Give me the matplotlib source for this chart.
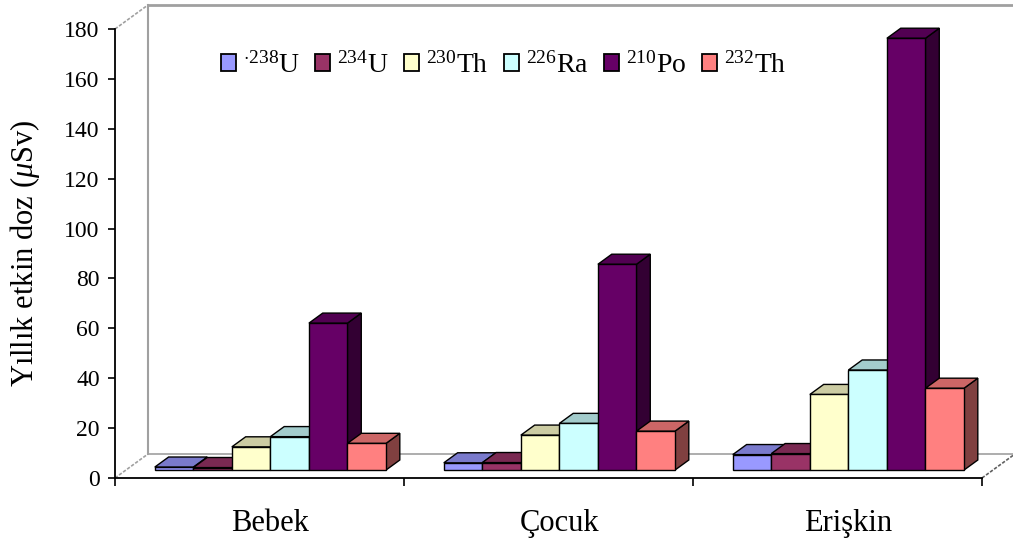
import matplotlib
matplotlib.use("Agg")
import matplotlib.pyplot as plt
from matplotlib.patches import Polygon, Patch
from matplotlib.colors import to_rgb

plt.rcParams['font.family'] = ['Liberation Serif', 'DejaVu Serif']
plt.rcParams['mathtext.fontset'] = 'custom'
plt.rcParams['mathtext.rm'] = 'Liberation Serif'
plt.rcParams['mathtext.it'] = 'Liberation Serif:italic'

# yıllık etkin doz (µSv) — yaş grubu x radyonüklid
gruplar = ['Bebek', 'Çocuk', 'Erişkin']
nuklidler = [r'$^{\cdot238}$U', r'$^{234}$U', r'$^{230}$Th', r'$^{226}$Ra', r'$^{210}$Po', r'$^{232}$Th']
u238 = [1.2, 2.9, 6.2]
u234 = [1.0, 3.0, 6.6]
th230 = [9.3, 14.0, 30.3]
ra226 = [13.4, 18.7, 40.1]
po210 = [58.9, 82.5, 173.1]
th232 = [10.7, 15.6, 32.8]
seriler = [u238, u234, th230, ra226, po210, th232]
renkler = ['#9999FF', '#993366', '#FFFFCC', '#CCFFFF', '#660066', '#FF8080']

YMAX = 180
# oblique depth of the 3-D floor, in data units
DX, DY = 0.114, 9.62
D0, D1 = 0.33, 0.75   # front / back of the columns inside the floor
GAP = 0.1
BW = (1 - 2 * GAP) / len(seriler)


def proj(x, y, d):
    return (x + d * DX, y + d * DY)


def shade(c, k):
    r, g, b = to_rgb(c)
    return (r * k, g * k, b * k)


fig = plt.figure(figsize=(10.13, 5.45), dpi=100)
ax = fig.add_axes([115 / 1013, 67 / 545, 867 / 1013, 449 / 545])
ax.set_xlim(0, len(gruplar))
ax.set_ylim(0, YMAX)

# walls and floor outline
gri = '#A0A0A0'
n = len(gruplar)
def seg(p, q, **kw):
    ax.plot([p[0], q[0]], [p[1], q[1]], clip_on=False, zorder=1, **kw)

seg(proj(0, 0, 1), proj(n + 0.2, 0, 1), color=gri, lw=1.2)
seg(proj(0, 0, 1), proj(0, YMAX, 1), color=gri, lw=1.5)
seg(proj(0, YMAX, 1), proj(n + 0.2, YMAX, 1), color=gri, lw=2)
seg(proj(0, 0, 0), proj(0, 0, 1), color=gri, lw=1.2, ls=(0, (2, 1)))
seg(proj(0, YMAX, 0), proj(0, YMAX, 1), color=gri, lw=1.2, ls=(0, (2, 1)))
seg(proj(n, 0, 0), proj(n, 0, 1), color='#606060', lw=1.2, ls=(0, (2, 1)))

# columns, drawn left to right so each front face hides the previous side face
for g in range(n):
    for i, (vals, c) in enumerate(zip(seriler, renkler)):
        x0 = g + GAP + i * BW
        x1 = x0 + BW
        h = vals[g]
        on = [proj(x0, 0, D0), proj(x1, 0, D0), proj(x1, h, D0), proj(x0, h, D0)]
        ust = [proj(x0, h, D0), proj(x1, h, D0), proj(x1, h, D1), proj(x0, h, D1)]
        yan = [proj(x1, 0, D0), proj(x1, 0, D1), proj(x1, h, D1), proj(x1, h, D0)]
        for pts, k in ((yan, 0.5), (ust, 0.8), (on, 1.0)):
            ax.add_patch(Polygon(pts, closed=True, facecolor=shade(c, k),
                                 edgecolor='black', lw=1.0, joinstyle='miter',
                                 clip_on=False, zorder=2 + g))

for s in ('top', 'right'):
    ax.spines[s].set_visible(False)
for s in ('left', 'bottom'):
    ax.spines[s].set_linewidth(1.3)
    ax.spines[s].set_zorder(10)

ax.set_yticks(range(0, YMAX + 1, 20))
ax.set_xticks(range(n + 1))
ax.set_xticklabels([])
ax.tick_params(axis='y', direction='out', length=5, width=1.2, labelsize=17, pad=6)
ax.tick_params(axis='x', direction='out', length=6, width=1.2)

for g, ad in enumerate(gruplar):
    xm = g + 0.5 + D0 * DX
    ax.text(xm, -12.5, ad, ha='center', va='top', fontsize=22)

ax.set_ylabel('Yıllık etkin doz ($\\mu$Sv)', fontsize=22, labelpad=16)

tutamaklar = [Patch(facecolor=c, edgecolor='black', lw=1.3) for c in renkler]
fig.legend(tutamaklar, nuklidler, loc='center left', bbox_to_anchor=(0.218, 0.881),
           ncol=6, frameon=False, fontsize=20, handlelength=0.55, handleheight=0.55,
           handletextpad=0.25, columnspacing=0.55, borderpad=0, borderaxespad=0)

fig.savefig('out.png', dpi=100)
